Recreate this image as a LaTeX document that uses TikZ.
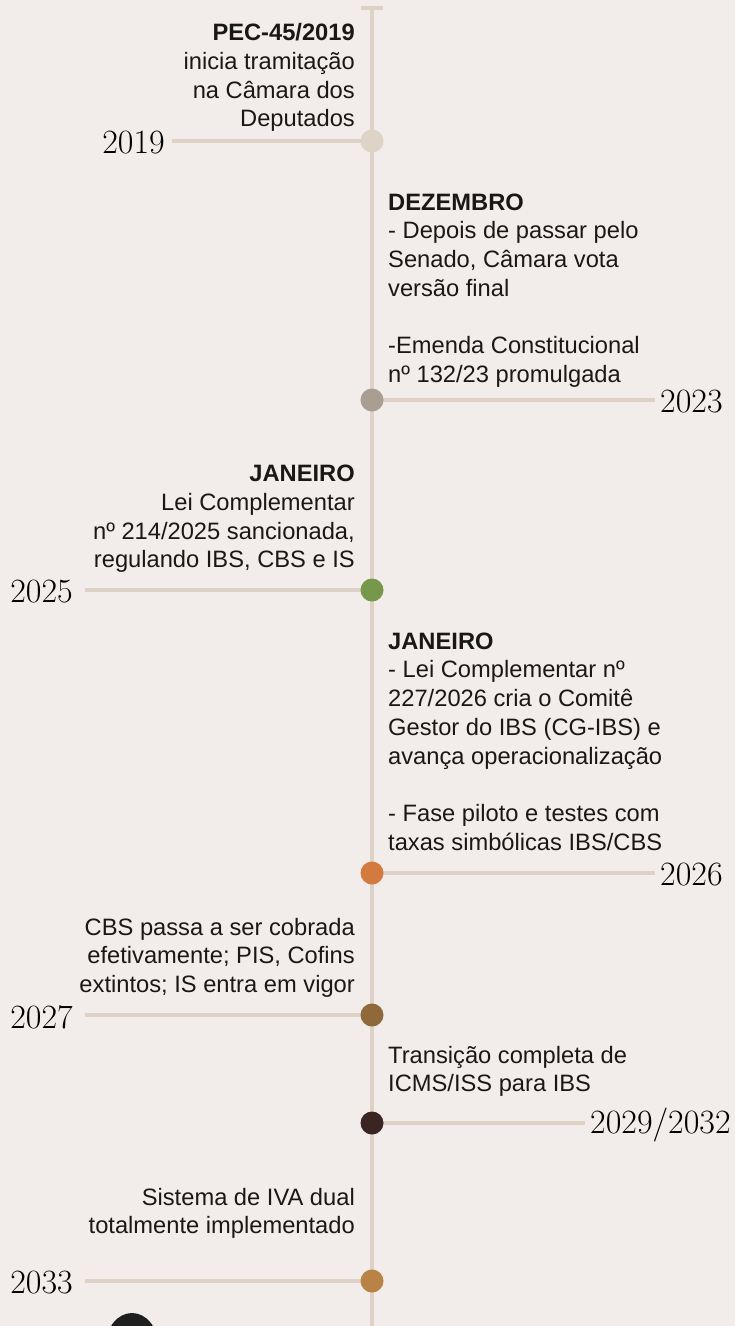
\documentclass[tikz,border=0pt]{standalone}
\usepackage{fontspec}
\newfontfamily\bodyfont{Liberation Sans}
\definecolor{bgc}{HTML}{F2EDEA}
\definecolor{tline}{HTML}{DDD2C5}
\definecolor{textc}{HTML}{1A1817}
\definecolor{c19}{HTML}{DDD3C6}
\definecolor{c23}{HTML}{A89F92}
\definecolor{c25}{HTML}{76984A}
\definecolor{c26}{HTML}{D37A3E}
\definecolor{c27}{HTML}{8F693A}
\definecolor{c29}{HTML}{3B2522}
\definecolor{c33}{HTML}{B98348}
\begin{document}
\begin{tikzpicture}[x=1pt, y=-1pt, line join=round,
  axis/.style={line width=3.2pt, color=tline},
  dot/.style={circle, minimum size=23pt, inner sep=0pt},
  year/.style={font=\fontsize{34}{34}\selectfont, inner sep=0pt, text=black},
  ev/.style={font=\bodyfont\fontsize{23.7}{28.7}\selectfont, inner sep=0pt, text=textc},
  evl/.style={ev, anchor=north east, align=right},
  evr/.style={ev, anchor=north west, align=left}]
  \fill[bgc] (0,0) rectangle (735,1326);
  \useasboundingbox (0,0) rectangle (735,1326);
  % axis
  \coordinate (top) at (372,8);
  \coordinate (bot) at (372,1330);
  \coordinate (tickl) at (361,8);
  \coordinate (tickr) at (383,8);
  \draw[axis] (top) -- (bot);
  \draw[axis] (tickl) -- (tickr);
  % dots
  \foreach \n/\y in {19/141,23/400,25/590,26/873,27/1015,29/1123,33/1281}
    \node[dot] (d\n) at (372,\y) {};
  % years
  \node[year, anchor=east] (y19) at (165,143) {2019};
  \node[year, anchor=west] (y23) at (660,402) {2023};
  \node[year, anchor=east] (y25) at (73,592) {2025};
  \node[year, anchor=west] (y26) at (660,875) {2026};
  \node[year, anchor=east] (y27) at (73,1017) {2027};
  \node[year, anchor=west] (y29) at (590,1125) {2029/2032};
  \node[year, anchor=east] (y33) at (73,1283) {2033};
  \draw[axis, shorten <=7pt] (y19.east |- d19) -- (d19.center);
  \draw[axis, shorten >=5pt] (d23.center) -- (y23.west |- d23);
  \draw[axis, shorten <=12pt] (y25.east |- d25) -- (d25.center);
  \draw[axis, shorten >=5pt] (d26.center) -- (y26.west |- d26);
  \draw[axis, shorten <=12pt] (y27.east |- d27) -- (d27.center);
  \draw[axis, shorten >=5pt] (d29.center) -- (y29.west |- d29);
  \draw[axis, shorten <=12pt] (y33.east |- d33) -- (d33.center);
  \foreach \n in {19,23,25,26,27,29,33}
    \fill[c\n] (d\n) circle (11.5);
  % texts
  \node[evl] (t19) at (355,20.6) {\strut\textbf{PEC-45/2019}\\inicia tramitação\\na Câmara dos\\Deputados};
  \node[evr] (t23) at (388,189.9) {\strut\textbf{DEZEMBRO}\\- Depois de passar pelo\\Senado, Câmara vota\\versão final\\[28.7pt]-Emenda Constitucional\\nº 132/23 promulgada};
  \node[evl] (t25) at (355,461.6) {\strut\textbf{JANEIRO}\\Lei Complementar\\nº 214/2025 sancionada,\\regulando IBS, CBS e IS};
  \node[evr] (t26) at (388,628.9) {\strut\textbf{JANEIRO}\\- Lei Complementar nº\\227/2026 cria o Comitê\\Gestor do IBS (CG-IBS) e\\avança operacionalização\\[28.7pt]- Fase piloto e testes com\\taxas simbólicas IBS/CBS};
  \node[evl] (t27) at (355,914.9) {\strut CBS passa a ser cobrada\\efetivamente; PIS, Cofins\\extintos; IS entra em vigor};
  \node[evr] (t29) at (388,1042.9) {\strut Transição completa de\\ICMS/ISS para IBS};
  \node[evl] (t33) at (355,1184.9) {\strut Sistema de IVA dual\\totalmente implementado};
  % partial dark shape at bottom edge
  \fill[black!88] (132,1345) ellipse (26 and 32);
\end{tikzpicture}
\end{document}
